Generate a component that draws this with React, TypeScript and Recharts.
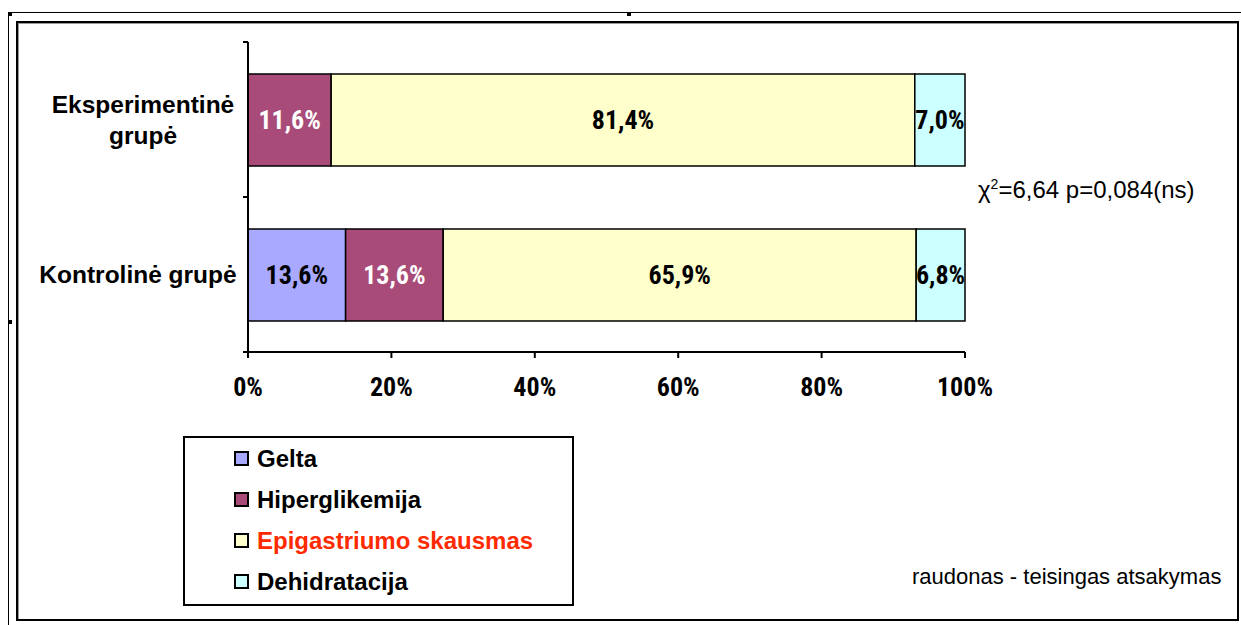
import { BarChart, Bar, XAxis, YAxis, LabelList } from 'recharts';

const categories = ['Eksperimentinė grupė', 'Kontrolinė grupė'];
const seriesNames = ['Gelta', 'Hiperglikemija', 'Epigastriumo skausmas', 'Dehidratacija'];
const gelta = [0, 13.6];
const hiperglikemija = [11.6, 13.6];
const epigastriumo = [81.4, 65.9];
const dehidratacija = [7.0, 6.8];
const xTicks = [0, 0.2, 0.4, 0.6, 0.8, 1];

const seriesColors = ['#A9A9FF', '#A84B78', '#FFFFCC', '#CCFFFF'];
const labelColors = ['#000', '#fff', '#000', '#000'];
const legendTextColors = ['#000', '#000', '#FF2A00', '#000'];

const seriesValues = [gelta, hiperglikemija, epigastriumo, dehidratacija];
const data = categories.map((name, i) => {
  const row: Record<string, string | number> = { name };
  seriesValues.forEach((vals, s) => {
    row[`s${s}`] = vals[i];
  });
  return row;
});

const narrow = "'Liberation Sans Narrow', 'Arial Narrow', 'Roboto Condensed', 'Liberation Sans', sans-serif";
const arial = "'Liberation Sans', Arial, sans-serif";

const fmtPct = (v: any) => (v ? `${Number(v).toFixed(1).replace('.', ',')}%` : '');

function CategoryTick(props: any) {
  const { x, y, payload } = props;
  const off = payload.offset ?? 0;
  const name: string = payload.value;
  const lines = name.length > 17 ? name.split(' ') : [name];
  const step = 31;
  const start = y - ((lines.length - 1) * step) / 2;
  const cx = lines.length > 1 ? 143 : 138;
  return (
    <g>
      <line x1={x - 5} x2={x} y1={y - off} y2={y - off} stroke="#000" strokeWidth={2} />
      <line x1={x - 5} x2={x} y1={y + off} y2={y + off} stroke="#000" strokeWidth={2} />
      <text x={cx} y={start} textAnchor="middle" fontFamily={arial} fontWeight={700} fontSize={24.5} fill="#000">
        {lines.map((ln, i) => (
          <tspan key={ln} x={cx} y={start + i * step} dy="0.35em">
            {ln}
          </tspan>
        ))}
      </text>
    </g>
  );
}

export default function App() {
  return (
    <div style={{ position: 'absolute', left: 0, top: 0, width: 1241, height: 625, background: '#fff', overflow: 'hidden' }}>
      <div style={{ position: 'absolute', left: 8, top: 12, width: 1240, height: 620, borderTop: '1.5px solid #000', borderLeft: '1.5px solid #000' }} />
      <div style={{ position: 'absolute', left: 8, top: 12, width: 4, height: 4, background: '#000' }} />
      <div style={{ position: 'absolute', left: 627, top: 12, width: 4, height: 4, background: '#000' }} />
      <div style={{ position: 'absolute', left: 8, top: 320, width: 4, height: 4, background: '#000' }} />
      <div
        style={{
          position: 'absolute',
          left: 16,
          top: 21,
          width: 1219,
          height: 596,
          border: '2px solid #000',
          boxShadow: 'inset 1px 1px 0 #999',
        }}
      />
      <div style={{ position: 'absolute', left: 0, top: 0 }}>
        <BarChart
          width={1241}
          height={625}
          data={data}
          layout="vertical"
          stackOffset="expand"
          barSize={92}
          margin={{ top: 42, right: 276, left: 0, bottom: 213 }}
        >
          <XAxis
            type="number"
            domain={[0, 1]}
            ticks={xTicks}
            tickFormatter={(v) => `${Math.round(v * 100)}%`}
            axisLine={{ stroke: '#000', strokeWidth: 2 }}
            tickLine={{ stroke: '#000', strokeWidth: 2 }}
            tickSize={6}
            tickMargin={20}
            height={60}
            tick={{ fill: '#000', fontSize: 26, fontWeight: 700, fontFamily: narrow }}
            interval={0}
          />
          <YAxis
            type="category"
            dataKey="name"
            width={248}
            axisLine={{ stroke: '#000', strokeWidth: 2 }}
            tickLine={false}
            tickSize={0}
            tickMargin={0}
            tick={<CategoryTick />}
            interval={0}
          />
          {seriesNames.map((n, s) => (
            <Bar
              key={n}
              dataKey={`s${s}`}
              name={n}
              stackId="a"
              fill={seriesColors[s]}
              stroke="#000"
              strokeWidth={1.5}
              isAnimationActive={false}
            >
              <LabelList
                dataKey={`s${s}`}
                position="center"
                formatter={fmtPct}
                fill={labelColors[s]}
                fontFamily={narrow}
                fontWeight={700}
                fontSize={26}
              />
            </Bar>
          ))}
        </BarChart>
      </div>

      <div
        style={{
          position: 'absolute',
          left: 183,
          top: 436,
          width: 387,
          height: 166,
          border: '2px solid #000',
          fontFamily: arial,
          fontWeight: 700,
          fontSize: 24,
        }}
      >
        {seriesNames.map((n, s) => (
          <div key={n} style={{ height: 41, display: 'flex', alignItems: 'center', paddingLeft: 49 }}>
            <span
              style={{
                display: 'inline-block',
                width: 11,
                height: 11,
                border: '2px solid #000',
                background: seriesColors[s],
                marginRight: 8,
              }}
            />
            <span style={{ color: legendTextColors[s] }}>{n}</span>
          </div>
        ))}
      </div>

      <div style={{ position: 'absolute', left: 978, top: 176, fontFamily: arial, fontSize: 24, lineHeight: '28px', whiteSpace: 'nowrap' }}>
        χ<span style={{ fontSize: 14, position: 'relative', top: -9 }}>2</span>=6,64 p=0,084(ns)
      </div>
      <div style={{ position: 'absolute', left: 912, top: 564, fontFamily: arial, fontSize: 22, lineHeight: '26px', whiteSpace: 'nowrap' }}>
        raudonas - teisingas atsakymas
      </div>
    </div>
  );
}
